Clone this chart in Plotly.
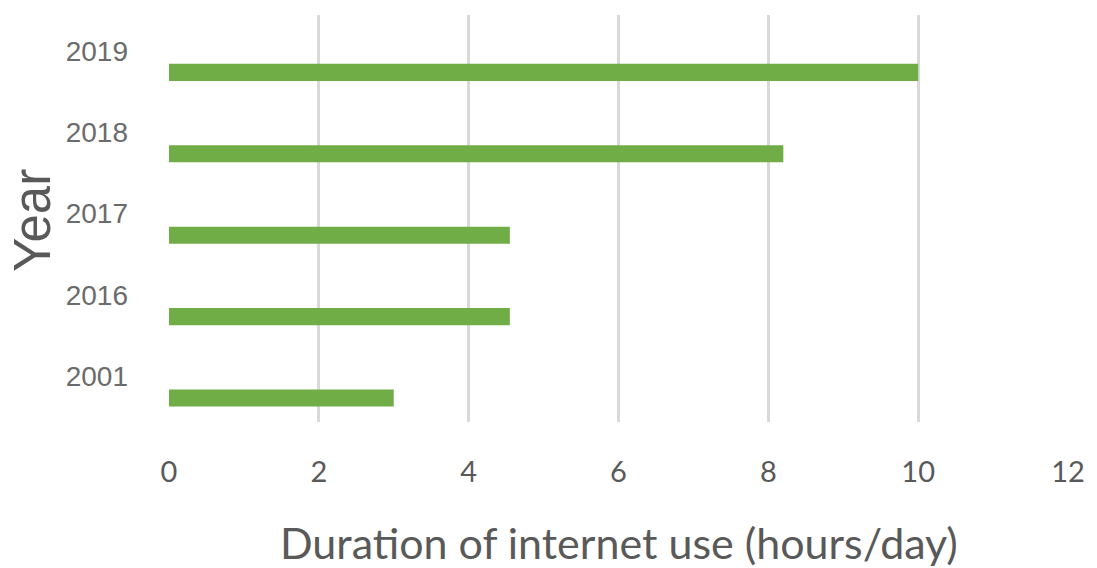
import plotly.graph_objects as go

# Daily internet use by year
years = ["2001", "2016", "2017", "2018", "2019"]
hours = [3.0, 4.55, 4.55, 8.2, 10.0]
x_ticks = [0, 2, 4, 6, 8, 10, 12]

GREY = "#595959"
GRID = "#d9d9d9"
BAR = "#70ad47"

fig = go.Figure()
fig.add_trace(go.Bar(
    x=hours,
    y=years,
    orientation="h",
    marker=dict(color=BAR, line=dict(width=0)),
    width=0.21,
    offset=-0.31,
    hoverinfo="x+y",
))

fig.update_layout(
    width=1097,
    height=568,
    margin=dict(l=169, r=24, t=15, b=146),
    paper_bgcolor="white",
    plot_bgcolor="white",
    showlegend=False,
    xaxis=dict(
        range=[0, 12],
        tickvals=x_ticks,
        ticktext=[str(v) for v in x_ticks],
        showgrid=True,
        gridcolor=GRID,
        gridwidth=3,
        zeroline=False,
        showline=False,
        ticks="",
        ticklabelstandoff=30,
        tickfont=dict(family="Lato", size=29, color=GREY),
    ),
    yaxis=dict(
        type="category",
        categoryorder="array",
        categoryarray=years,
        range=[-0.5, 4.5],
        showgrid=False,
        zeroline=False,
        showline=False,
        ticks="",
        ticklabelstandoff=40,
        ticklabelshift=-5,
        tickfont=dict(family="Liberation Sans", size=28, color="#6b6b6b"),
    ),
    annotations=[
        dict(
            text="Year",
            xref="paper", yref="paper",
            x=-0.1527, y=0.496,
            xanchor="center", yanchor="middle",
            textangle=-90,
            showarrow=False,
            font=dict(family="Liberation Sans", size=51, color=GREY),
        ),
        dict(
            text="Duration of internet use (hours/day)",
            xref="paper", yref="paper",
            x=0.5, y=-0.295,
            xanchor="center", yanchor="middle",
            showarrow=False,
            font=dict(family="Lato", size=43, color=GREY),
        ),
    ],
)

fig.write_html("out.html")
